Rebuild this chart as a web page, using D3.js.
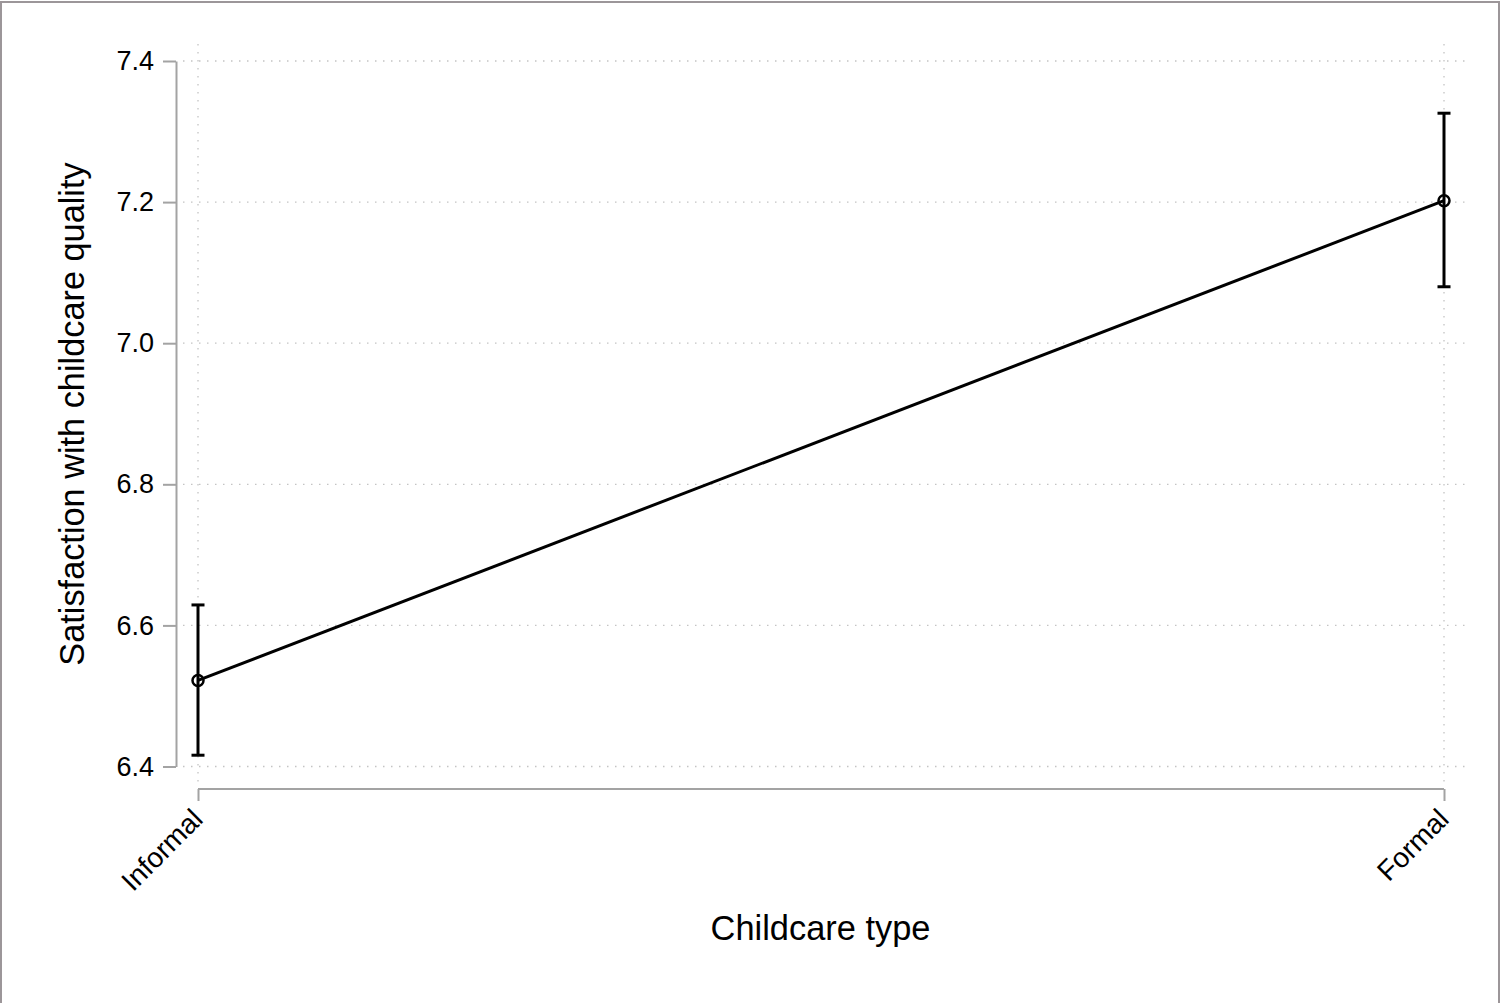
<!DOCTYPE html>
<html>
<head>
<meta charset="utf-8">
<script src="https://cdn.jsdelivr.net/npm/d3@7"></script>
<style>
  html, body { margin: 0; padding: 0; background: #fff; }
  svg { display: block; font-family: "Liberation Sans", Arial, Helvetica, sans-serif; }
</style>
</head>
<body>
<svg id="chart" width="1501" height="1003"></svg>
<script>
// Predicted satisfaction by childcare type, with 95% confidence intervals
const categories = ["Informal", "Formal"];
const estimates  = [6.522, 7.202];
const ciLower    = [6.416, 7.080];
const ciUpper    = [6.629, 7.326];
const yTicks     = [6.4, 6.6, 6.8, 7.0, 7.2, 7.4];

const svg = d3.select("#chart");
const W = 1501, H = 1003;

// outer frame
svg.append("rect")
  .attr("x", 1).attr("y", 2)
  .attr("width", W - 3).attr("height", H + 10)
  .attr("fill", "#fff")
  .attr("stroke", "#9c9699").attr("stroke-width", 2);

// scales
const x = d3.scalePoint().domain(categories).range([198, 1444]);
const y = d3.scaleLinear().domain([6.4, 7.4]).range([766.5, 61]);

const plotLeft = 183, plotRight = 1465, plotTop = 44, plotBottom = 784;
const gridColor = "#c4c4c4";

// horizontal grid
svg.append("g").selectAll("line").data(yTicks).join("line")
  .attr("x1", plotLeft).attr("x2", plotRight)
  .attr("y1", d => y(d)).attr("y2", d => y(d))
  .attr("stroke", gridColor).attr("stroke-width", 1.3)
  .attr("stroke-dasharray", "1.5,6.5");

// vertical grid
svg.append("g").selectAll("line").data(categories).join("line")
  .attr("x1", d => x(d)).attr("x2", d => x(d))
  .attr("y1", plotTop).attr("y2", plotBottom)
  .attr("stroke", gridColor).attr("stroke-width", 1.3)
  .attr("stroke-dasharray", "1.5,6.5");

// y axis
const yAxis = d3.axisLeft(y).tickValues(yTicks).tickFormat(d3.format(".1f"))
  .tickSize(13).tickSizeOuter(0).tickPadding(9);
const gy = svg.append("g").attr("transform", "translate(176,0)").call(yAxis);
gy.select(".domain").attr("stroke", "#a3a3a3").attr("stroke-width", 2);
gy.selectAll(".tick line").attr("stroke", "#a3a3a3").attr("stroke-width", 2);
gy.selectAll(".tick text").attr("font-size", 27).attr("fill", "#000")
  .attr("font-family", "Liberation Sans, Arial, sans-serif");

// x axis
const xAxis = d3.axisBottom(x).tickSize(12).tickSizeOuter(0).tickPadding(6);
const gx = svg.append("g").attr("transform", "translate(0,789)").call(xAxis);
gx.select(".domain").attr("stroke", "#a3a3a3").attr("stroke-width", 2)
  .attr("d", `M${x(categories[0])},0H${x(categories[1])}`);
gx.selectAll(".tick line").attr("stroke", "#a3a3a3").attr("stroke-width", 2);
gx.selectAll(".tick text")
  .attr("font-size", 28).attr("fill", "#000")
  .attr("font-family", "Liberation Sans, Arial, sans-serif")
  .attr("text-anchor", "end")
  .attr("dy", "0.35em")
  .attr("transform", "translate(-1,25) rotate(-45)")
  .attr("x", 0).attr("y", 0);

// axis titles
svg.append("text")
  .attr("x", 820.5).attr("y", 940)
  .attr("text-anchor", "middle")
  .attr("font-size", 34.4).attr("fill", "#000")
  .text("Childcare type");

svg.append("text")
  .attr("transform", "translate(84,414) rotate(-90)")
  .attr("text-anchor", "middle")
  .attr("font-size", 34.3).attr("fill", "#000")
  .text("Satisfaction with childcare quality");

// connecting line
const pts = categories.map((c, i) => ({ c, v: estimates[i], lo: ciLower[i], hi: ciUpper[i] }));
svg.append("path")
  .datum(pts)
  .attr("fill", "none").attr("stroke", "#000").attr("stroke-width", 3)
  .attr("d", d3.line().x(d => x(d.c)).y(d => y(d.v)));

// confidence intervals
const ci = svg.append("g").attr("stroke", "#000").attr("stroke-width", 3);
ci.selectAll("line.bar").data(pts).join("line").attr("class", "bar")
  .attr("x1", d => x(d.c)).attr("x2", d => x(d.c))
  .attr("y1", d => y(d.lo)).attr("y2", d => y(d.hi));
const capW = 6.5;
ci.selectAll("line.capHi").data(pts).join("line").attr("class", "capHi")
  .attr("x1", d => x(d.c) - capW).attr("x2", d => x(d.c) + capW)
  .attr("y1", d => y(d.hi)).attr("y2", d => y(d.hi));
ci.selectAll("line.capLo").data(pts).join("line").attr("class", "capLo")
  .attr("x1", d => x(d.c) - capW).attr("x2", d => x(d.c) + capW)
  .attr("y1", d => y(d.lo)).attr("y2", d => y(d.lo));

// point markers
svg.append("g").selectAll("circle").data(pts).join("circle")
  .attr("cx", d => x(d.c)).attr("cy", d => y(d.v)).attr("r", 5.5)
  .attr("fill", "none").attr("stroke", "#000").attr("stroke-width", 2.5);
</script>
</body>
</html>
